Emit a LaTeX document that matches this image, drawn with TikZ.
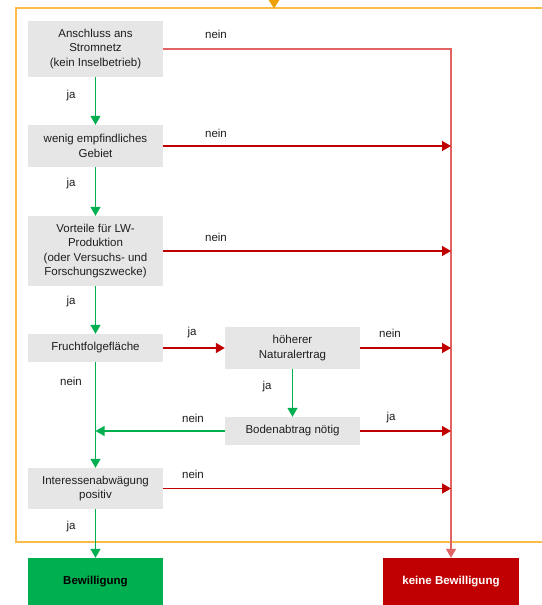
\documentclass[tikz,border=0pt]{standalone}
\usepackage{fontspec}
\setmainfont{Liberation Sans}
\usetikzlibrary{arrows.meta}
\definecolor{boxgray}{RGB}{231,230,230}
\definecolor{framec}{RGB}{250,188,70}
\definecolor{entryc}{RGB}{240,160,0}
\definecolor{okgreen}{RGB}{0,176,80}
\definecolor{nored}{RGB}{192,0,0}
\definecolor{lightred}{RGB}{224,100,100}
\definecolor{txt}{RGB}{30,30,30}
\tikzset{
  qbox/.style={fill=boxgray, draw=none, minimum width=135pt, align=center, text=txt, font=\fontsize{11.5}{14.5}\selectfont, inner sep=2pt},
  lbl/.style={text=txt, font=\fontsize{11.5}{14}\selectfont, inner sep=0pt},
  tip/.style={-{Triangle[width=10pt,length=9pt]}},
  yes/.style={draw=okgreen, line width=1.4pt},
  no/.style={draw=nored, line width=1.4pt},
  nolight/.style={draw=lightred, line width=1.4pt},
}
\begin{document}
\begin{tikzpicture}[x=1pt,y=-1pt]
\useasboundingbox (0,0) rectangle (541,605);
\fill[white] (0,0) rectangle (541,605);
% frame
\draw[framec, line width=1.4pt] (560,8) -- (16,8) -- (16,542) -- (560,542);
\coordinate (entry) at (274,-6);
\coordinate (entryend) at (274,8.5);
\draw[entryc, line width=1.4pt, -{Triangle[width=11pt,length=9pt]}] (entry) -- (entryend);
% boxes
\node[qbox, minimum height=56pt] (b1) at (95.5,49) {Anschluss ans\\Stromnetz\\(kein Inselbetrieb)};
\node[qbox, minimum height=42pt] (b2) at (95.5,146) {wenig empfindliches\\Gebiet};
\node[qbox, minimum height=70pt] (b3) at (95.5,251) {Vorteile für LW-\\Produktion\\(oder Versuchs- und\\Forschungszwecke)};
\node[qbox, minimum height=28pt] (b4) at (95.5,348) {Fruchtfolgefläche};
\node[qbox, minimum height=42pt] (b5) at (292.5,348) {höherer\\Naturalertrag};
\node[qbox, minimum height=28pt] (b6) at (292.5,431) {Bodenabtrag nötig};
\node[qbox, minimum height=41pt] (b7) at (95.5,488.5) {Interessenabwägung\\positiv};
\node[fill=okgreen, minimum width=135pt, minimum height=47pt, inner sep=0pt, font=\bfseries\fontsize{11.5}{14}\selectfont, text=black] (bew) at (95.5,581.5) {Bewilligung};
\node[fill=nored, minimum width=136pt, minimum height=47pt, inner sep=0pt, font=\bfseries\fontsize{11.5}{14}\selectfont, text=white] (kb) at (451,581.5) {keine Bewilligung};
% red trunk
\coordinate (rtop) at (b1.east -| kb.north);
\draw[nolight, tip] (b1.east) -- (rtop) -- (kb.north);
\draw[no, tip] (b2.east) -- (b2.east -| kb.north);
\draw[no, tip] (b3.east) -- (b3.east -| kb.north);
\draw[no, tip] (b4.east) -- (b5.west);
\draw[no, tip] (b5.east) -- (b5.east -| kb.north);
\draw[no, tip] (b6.east) -- (b6.east -| kb.north);
\draw[no, tip] (b7.east) -- (b7.east -| kb.north);
% green
\draw[yes, tip] (b1.south) -- (b2.north);
\draw[yes, tip] (b2.south) -- (b3.north);
\draw[yes, tip] (b3.south) -- (b4.north);
\draw[yes, tip] (b4.south) -- (b7.north);
\draw[yes, tip] (b5.south) -- (b6.north);
\draw[yes, tip] (b6.west) -- (b6.west -| b4.south);
\draw[yes, tip] (b7.south) -- (bew.north);
% labels
\node[lbl] (l1n) at (216,34) {nein};
\node[lbl] (l1j) at (71,96) {ja};
\node[lbl] (l2n) at (216,133) {nein};
\node[lbl] (l2j) at (71,184) {ja};
\node[lbl] (l3n) at (216,237) {nein};
\node[lbl] (l3j) at (71,302) {ja};
\node[lbl] (l4j) at (192,333) {ja};
\node[lbl] (l5n) at (390,333) {nein};
\node[lbl] (l4n) at (71,381) {nein};
\node[lbl] (l5j) at (267,387) {ja};
\node[lbl] (l6n) at (193,418) {nein};
\node[lbl] (l6j) at (391,418) {ja};
\node[lbl] (l7n) at (193,474) {nein};
\node[lbl] (l7j) at (71,527) {ja};
\end{tikzpicture}
\end{document}
